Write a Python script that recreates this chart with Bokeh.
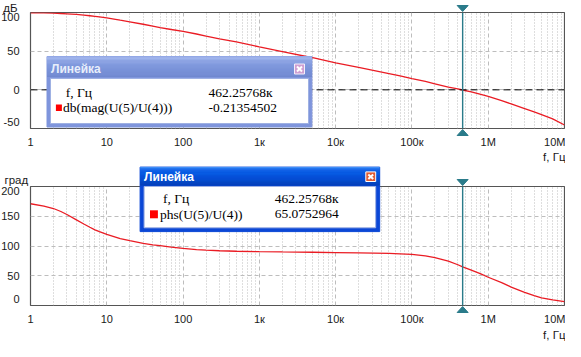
import numpy as np
from bokeh.plotting import figure
from bokeh.layouts import column
from bokeh.models import Range1d, FixedTicker, Span, ColumnDataSource
from bokeh.core.properties import value
from bokeh.embed import file_html
from bokeh.resources import INLINE

# ---------------- data ----------------
freq_hz = [1, 1.5, 2, 2.5, 3, 4, 5, 6, 7, 8, 10, 13, 15, 20, 30, 40, 50, 70, 100,
           150, 200, 300, 500, 1e3, 2e3, 5e3, 1e4, 2e4, 5e4, 7e4, 1e5, 1.5e5, 2e5,
           3e5, 4e5, 462257.68, 6e5, 8e5, 1e6, 1.5e6, 2e6, 3e6, 4e6, 5e6, 7e6, 1e7]
mag_db = [99.6, 99.4, 99.1, 98.7, 98.3, 97.5, 96.6, 95.8, 95.0, 94.3, 93.0, 91.2,
          90.0, 88.0, 84.8, 82.5, 80.5, 78.0, 75.5, 72.2, 69.5, 66.0, 62.0, 55.5,
          49.5, 41.5, 35.0, 29.0, 21.0, 18.0, 14.5, 10.8, 7.8, 3.5, 1.2, -0.21,
          -2.6, -5.8, -8.6, -14.0, -18.2, -24.2, -28.5, -32.0, -37.5, -45.5]
phase_deg = [171, 167, 163, 158, 153, 144, 137, 131.5, 127, 124, 119.5, 115, 112.5,
             109, 104.5, 102, 100.5, 98, 96, 94, 93, 92, 91.2, 90.5, 90, 89.5, 89,
             88.5, 87.5, 86.8, 85.8, 83.5, 80.5, 74.5, 68.5, 65.08, 59.5, 53, 47.5,
             38.5, 31, 22, 16.5, 13, 9.5, 6.5]

freq_ticks = [1, 10, 100, 1e3, 1e4, 1e5, 1e6, 1e7]
freq_tick_labels = ["1", "10", "100", "1к", "10к", "100к", "1M", "10M"]
mag_ticks = [-50, 0, 50, 100]
phase_ticks = [0, 50, 100, 150, 200]

cursor_freq = 462257.68
cursor_mag = -0.21354502
cursor_phase = 65.0752964
mag_trace = "db(mag(U(5)/U(4)))"
phase_trace = "phs(U(5)/U(4))"
x_unit = "f, Гц"

# ---------------- layout ----------------
W = 565
LEFT, RIGHT = 30, 1
FW = W - LEFT - RIGHT
XMIN, XMAX = 1.0, 1e7
LOGSPAN = np.log10(XMAX) - np.log10(XMIN)

RED = "#ea1c24"
CUR = "#2a7b8a"
GRID = "#bdbdbd"
SANS = value("Liberation Sans")
SERIF = value("Liberation Serif")

minor = [k * 10 ** d for d in range(0, 7) for k in range(2, 10)]


class Frame:
    def __init__(self, top, fh, ymin, ymax):
        self.top, self.fh, self.ymin, self.ymax = top, fh, ymin, ymax

    def X(self, px):
        return 10 ** (np.log10(XMIN) + (px - LEFT) / FW * LOGSPAN)

    def Y(self, py):
        return self.ymax - (py - self.top) / self.fh * (self.ymax - self.ymin)

    def xp(self, f):
        return LEFT + (np.log10(f) - np.log10(XMIN)) / LOGSPAN * FW


def make_fig(h, top, bottom, ymin, ymax):
    p = figure(width=W, height=h, x_axis_type="log",
               x_range=Range1d(XMIN, XMAX), y_range=Range1d(ymin, ymax),
               x_axis_location=None, y_axis_location=None,
               toolbar_location=None, output_backend="svg",
               min_border_left=LEFT, min_border_right=RIGHT,
               min_border_top=top, min_border_bottom=bottom)
    p.outline_line_color = "#555555"
    p.outline_line_width = 1.2
    p.background_fill_color = "white"
    p.border_fill_color = "white"
    p.xgrid.ticker = FixedTicker(ticks=freq_ticks, minor_ticks=minor)
    p.xgrid.grid_line_color = GRID
    p.xgrid.grid_line_dash = "4 3"
    p.xgrid.minor_grid_line_color = GRID
    p.xgrid.minor_grid_line_dash = "1 2"
    p.ygrid.ticker = FixedTicker(ticks=list(range(int(ymin), int(ymax) + 1, 50)))
    p.ygrid.grid_line_color = GRID
    p.ygrid.grid_line_dash = "4 3"
    return p


def axis_labels(p, fr, yticks, unit, unit_y):
    fb = fr.top + fr.fh
    yoff = [4.5 if t == fr.ymax else (-6.5 if t == fr.ymin else 0) for t in yticks]
    src = ColumnDataSource(dict(x=[fr.X(19)] * len(yticks), y=yticks,
                                t=[str(t) for t in yticks], yo=yoff))
    p.text(x="x", y="y", text="t", y_offset="yo", source=src, level="overlay",
           text_font=SANS, text_font_size="11px", text_color="#1a1a1a",
           text_align="right", text_baseline="middle")
    ty = fr.Y(fb + 13)
    p.text(x=freq_ticks[:-1], y=[ty] * (len(freq_ticks) - 1), text=freq_tick_labels[:-1],
           level="overlay", text_font=SANS, text_font_size="11px", text_color="#1a1a1a",
           text_align="center", text_baseline="middle")
    p.text(x=[freq_ticks[-1]], y=[ty], text=[freq_tick_labels[-1]], x_offset=1,
           level="overlay", text_font=SANS, text_font_size="11px", text_color="#1a1a1a",
           text_align="right", text_baseline="middle")
    p.text(x=[fr.X(565)], y=[fr.Y(fb + unit_y)], text=[x_unit], level="overlay",
           text_font=SANS, text_font_size="11.5px", text_color="#1a1a1a",
           text_align="right", text_baseline="middle")
    p.text(x=[fr.X(unit[1])], y=[fr.Y(unit[2])], text=[unit[0]], level="overlay",
           text_font=SANS, text_font_size="11.5px", text_color="#1a1a1a",
           text_align="right", text_baseline="middle")


def cursor(p, fr):
    p.add_layout(Span(location=cursor_freq, dimension="height",
                      line_color=CUR, line_width=1.4))
    cx = fr.xp(cursor_freq)
    fb = fr.top + fr.fh
    p.patch([fr.X(cx - 5.5), fr.X(cx + 5.5), fr.X(cx)],
            [fr.Y(fr.top - 7), fr.Y(fr.top - 7), fr.Y(fr.top - 1)],
            fill_color=CUR, line_color=CUR, level="overlay")
    p.patch([fr.X(cx - 5.5), fr.X(cx + 5.5), fr.X(cx)],
            [fr.Y(fb + 7), fr.Y(fb + 7), fr.Y(fb + 1)],
            fill_color=CUR, line_color=CUR, level="overlay")


def dialog(p, fr, outer, bar_b, inner, close, active, rows, title_pos,
           label_x, trace_x, value_x, row_y, square):
    x0, y0, x1, y1 = outer
    if active:
        border = "#0b47d6"
        bar = ["#3d8ef7", "#2a7ef4", "#1a70ef", "#0f66ea", "#0a5fe6", "#075be3",
               "#0658e0", "#0556dd", "#0553da", "#0451d6", "#044ed2", "#044bcd",
               "#0448c7", "#0445c1", "#0442bb", "#033fb4"]
        ttl = "#ffffff"
        cfill, cline = "#e15a30", "#ffffff"
    else:
        border = "#7f95dc"
        bar = ["#a7bbef", "#9fb4ec", "#97ade8", "#90a7e5", "#8ba2e2", "#869ee0",
               "#829bde", "#7f98dc", "#7d96db", "#7b94d9", "#7992d8", "#7790d6",
               "#768ed5", "#748cd3", "#728ad1", "#7088cf"]
        ttl = "#e8eefb"
        cfill, cline = "#cf9fd2", "#f4eefa"
    p.quad(left=[fr.X(x0)], right=[fr.X(x1)], top=[fr.Y(y0)], bottom=[fr.Y(y1)],
           fill_color=border, line_color=border, line_width=1, level="overlay")
    n = len(bar)
    hstep = (bar_b - y0) / n
    p.quad(left=[fr.X(x0)] * n, right=[fr.X(x1)] * n,
           top=[fr.Y(y0 + i * hstep) for i in range(n)],
           bottom=[fr.Y(y0 + (i + 1) * hstep) for i in range(n)],
           fill_color=bar, line_color=None, level="overlay")
    ix0, iy0, ix1, iy1 = inner
    p.quad(left=[fr.X(ix0)], right=[fr.X(ix1)], top=[fr.Y(iy0)], bottom=[fr.Y(iy1)],
           fill_color="white", line_color="#9fb1e3", line_width=1, level="overlay")
    p.text(x=[fr.X(title_pos[0])], y=[fr.Y(title_pos[1])], text=["Линейка"],
           level="overlay", text_font=SANS, text_font_style="bold",
           text_font_size="12px", text_color=ttl, text_align="left",
           text_baseline="middle")
    cx0, cy0, cx1, cy1 = close
    p.quad(left=[fr.X(cx0)], right=[fr.X(cx1)], top=[fr.Y(cy0)], bottom=[fr.Y(cy1)],
           fill_color=cfill, line_color=cline, line_width=1, level="overlay")
    p.segment(x0=[fr.X(cx0 + 2.5), fr.X(cx0 + 2.5)], y0=[fr.Y(cy0 + 2.5), fr.Y(cy1 - 2.5)],
              x1=[fr.X(cx1 - 2.5), fr.X(cx1 - 2.5)], y1=[fr.Y(cy1 - 2.5), fr.Y(cy0 + 2.5)],
              line_color="white", line_width=2, level="overlay")
    sx0, sy0, sx1, sy1 = square
    p.quad(left=[fr.X(sx0)], right=[fr.X(sx1)], top=[fr.Y(sy0)], bottom=[fr.Y(sy1)],
           fill_color="#ff0000", line_color=None, level="overlay")
    p.text(x=[fr.X(label_x), fr.X(trace_x)], y=[fr.Y(row_y[0]), fr.Y(row_y[1])],
           text=[rows[0][0], rows[1][0]], level="overlay", text_font=SERIF,
           text_font_size="13.5px", text_color="#000000", text_align="left",
           text_baseline="middle")
    p.text(x=[fr.X(value_x)] * 2, y=[fr.Y(row_y[0]), fr.Y(row_y[1])],
           text=[rows[0][1], rows[1][1]], level="overlay", text_font=SERIF,
           text_font_size="13.5px", text_color="#000000", text_align="left",
           text_baseline="middle")


freq_text = f"{cursor_freq / 1e3:.5f}к"

# ---------------- magnitude plot ----------------
H1, TOP1, BOT1 = 163, 12, 35
fr1 = Frame(TOP1, H1 - TOP1 - BOT1, -50, 100)
p1 = make_fig(H1, TOP1, BOT1, -50, 100)
p1.add_layout(Span(location=0, dimension="width", line_color="black",
                   line_dash="7 4", line_width=1))
p1.line(freq_hz, mag_db, line_color=RED, line_width=1.3)
cursor(p1, fr1)
dialog(p1, fr1, outer=(46.5, 56, 311.4, 126.5), bar_b=76.5,
       inner=(50, 78, 308, 123), close=(294, 63.5, 304, 73.5), active=False,
       rows=[(x_unit, freq_text), (mag_trace, f"{cursor_mag:.8f}")],
       title_pos=(50.5, 68), label_x=65.3, trace_x=62.4, value_x=208,
       row_y=(91.5, 107), square=(55.4, 104, 61.4, 110.5))
axis_labels(p1, fr1, mag_ticks, ("дБ", 17, 7.5), 28)

# ---------------- phase plot ----------------
H2, TOP2, BOT2 = 178, 23, 36
fr2 = Frame(TOP2, H2 - TOP2 - BOT2, 0, 200)
p2 = make_fig(H2, TOP2, BOT2, 0, 200)
p2.line(freq_hz, phase_deg, line_color=RED, line_width=1.3)
cursor(p2, fr2)
dialog(p2, fr2, outer=(139.6, 3.6, 379.2, 68.1), bar_b=22,
       inner=(143.6, 23, 375.2, 64.3), close=(365.3, 8.4, 375.2, 18), active=True,
       rows=[(x_unit, freq_text), (phase_trace, f"{cursor_phase:.7f}")],
       title_pos=(143.6, 13.2), label_x=162.4, trace_x=159.4, value_x=274.2,
       row_y=(35.4, 50.8), square=(149.5, 46.8, 157.4, 54.8))
axis_labels(p2, fr2, phase_ticks, ("град", 27.7, 16), 29.5)

layout = column(p1, p2, spacing=0)
open("out.html", "w").write(file_html(layout, INLINE))
